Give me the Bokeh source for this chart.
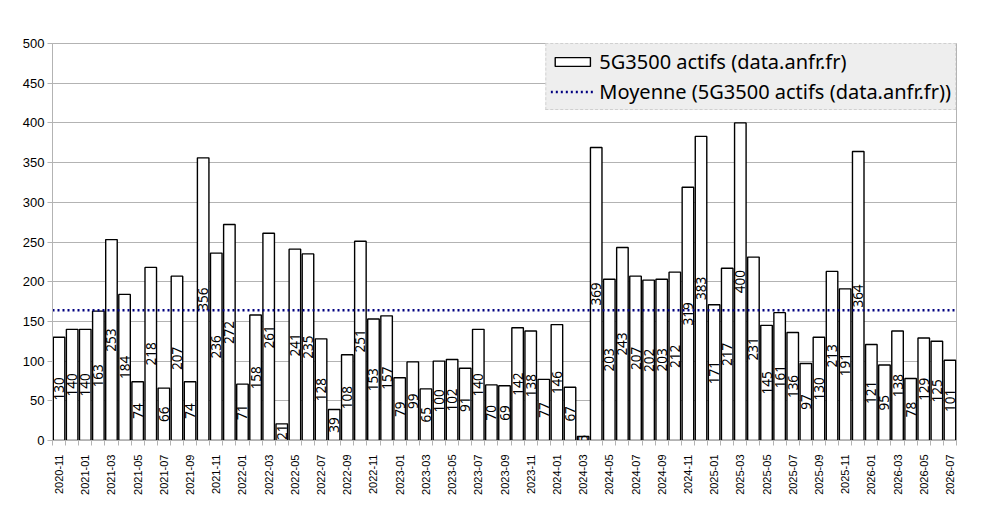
import numpy as np
from bokeh.plotting import figure
from bokeh.models import ColumnDataSource, FixedTicker, Legend, LegendItem
from bokeh.core.properties import value
from bokeh.embed import file_html
from bokeh.resources import INLINE

months = ["2020-11","2020-12","2021-01","2021-02","2021-03","2021-04","2021-05","2021-06","2021-07","2021-08","2021-09","2021-10",
          "2021-11","2021-12","2022-01","2022-02","2022-03","2022-04","2022-05","2022-06","2022-07","2022-08","2022-09","2022-10",
          "2022-11","2022-12","2023-01","2023-02","2023-03","2023-04","2023-05","2023-06","2023-07","2023-08","2023-09","2023-10",
          "2023-11","2023-12","2024-01","2024-02","2024-03","2024-04","2024-05","2024-06","2024-07","2024-08","2024-09","2024-10",
          "2024-11","2024-12","2025-01","2025-02","2025-03","2025-04","2025-05","2025-06","2025-07","2025-08","2025-09","2025-10",
          "2025-11","2025-12","2026-01","2026-02","2026-03","2026-04","2026-05","2026-06","2026-07"]
actifs = [130,140,140,163,253,184,74,218,66,207,74,356,
          236,272,71,158,261,21,241,235,128,39,108,251,
          153,157,79,99,65,100,102,91,140,70,69,142,
          138,77,146,67,5,369,203,243,207,202,203,212,
          319,383,171,217,400,231,145,161,136,97,130,213,
          191,364,121,95,138,78,129,125,101]

n = len(months)
x = list(range(n))
mean_val = float(np.mean(actifs))

src = ColumnDataSource(dict(x=x, top=actifs, mid=[v / 2 for v in actifs], lbl=[str(v) for v in actifs]))

p = figure(width=977, height=508, output_backend="svg", toolbar_location=None,
           x_range=(-0.5, n - 0.5), y_range=(0, 500),
           min_border_left=52, min_border_right=21, min_border_top=43, min_border_bottom=68)

bars = p.vbar(x="x", top="top", width=0.88, source=src, fill_color="white", line_color="black", line_width=1.4)
mline = p.line(x=[-0.5, n - 0.5], y=[mean_val, mean_val], line_color="#000080", line_width=2.5, line_dash="2 3")
p.text(x="x", y="mid", text="lbl", source=src, angle=np.pi / 2, text_align="center", text_baseline="middle",
       text_font=value("Noto Sans"), text_font_size="13.5px", text_color="black")

p.xgrid.visible = False
p.ygrid.grid_line_color = "#b3b3b3"
p.ygrid.ticker = FixedTicker(ticks=list(range(0, 501, 50)))
p.outline_line_color = "#b3b3b3"
p.background_fill_color = "white"
p.border_fill_color = "white"

p.yaxis.ticker = FixedTicker(ticks=list(range(0, 501, 50)))
p.yaxis.axis_line_color = "#b3b3b3"
p.yaxis.major_tick_line_color = "#b3b3b3"
p.yaxis.major_tick_out = 5
p.yaxis.major_tick_in = 0
p.yaxis.minor_tick_line_color = None
p.yaxis.major_label_text_font = "Liberation Sans"
p.yaxis.major_label_text_font_size = "13px"
p.yaxis.major_label_text_color = "black"
p.yaxis.major_label_standoff = 3

p.xaxis.ticker = FixedTicker(ticks=x[::2], minor_ticks=[i - 0.5 for i in range(n + 1)])
p.xaxis.major_label_overrides = {i: months[i] for i in x[::2]}
p.xaxis.major_label_orientation = np.pi / 2
p.xaxis.axis_line_color = "#b3b3b3"
p.xaxis.major_tick_line_color = None
p.xaxis.minor_tick_line_color = "#b3b3b3"
p.xaxis.minor_tick_out = 5
p.xaxis.minor_tick_in = 0
p.xaxis.major_label_text_font = "Liberation Sans"
p.xaxis.major_label_text_font_size = "11px"
p.xaxis.major_label_text_color = "black"
p.xaxis.major_label_standoff = 8

legend = Legend(items=[LegendItem(label="5G3500 actifs (data.anfr.fr)", renderers=[bars]),
                       LegendItem(label="Moyenne (5G3500 actifs (data.anfr.fr))", renderers=[mline])],
                location="top_right", margin=0, padding=4, spacing=3,
                glyph_width=44, glyph_height=11, label_standoff=5,
                label_text_font="Noto Sans", label_text_font_size="20px", label_text_color="black",
                background_fill_color="#eeeeee", background_fill_alpha=1.0,
                border_line_color="#b3b3b3", border_line_dash="1 1", border_line_width=1)
p.add_layout(legend)

open("out.html", "w").write(file_html(p, INLINE))
